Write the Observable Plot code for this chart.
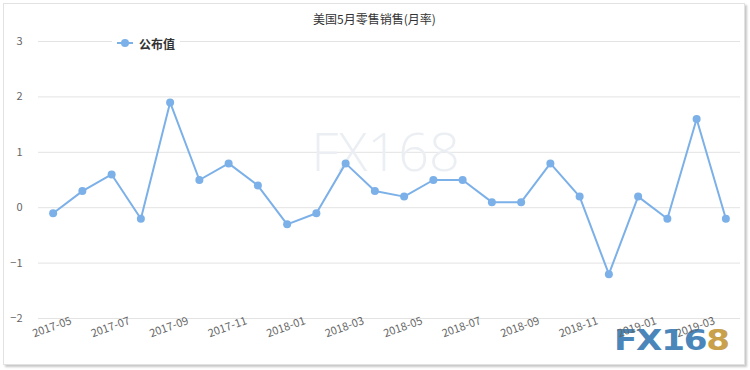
<!DOCTYPE html>
<html>
<head>
<meta charset="utf-8">
<script src="https://cdn.jsdelivr.net/npm/d3@7"></script>
<script src="https://cdn.jsdelivr.net/npm/@observablehq/plot@0.6"></script>
<style>
  html, body { margin: 0; padding: 0; background: #fff; }
  #wrap { position: relative; width: 750px; height: 370px; overflow: hidden; font-family: "Noto Sans CJK SC", "DejaVu Sans", sans-serif; }
  #frame { position: absolute; left: 3px; top: 3px; width: 740px; height: 360px; border: 1px solid #e2e2e2; box-shadow: 2px 2px 2px #c8c8c8; }
  #logo { position: absolute; left: 614px; top: 324px; font-family: "DejaVu Sans", sans-serif; font-weight: bold; font-size: 28px; transform: scaleX(1.22); transform-origin: left top; letter-spacing: -1px; }
  #logo .b { color: #4a86b9; }
  #logo .g { color: #c9a04c; }
  #chart { position: absolute; left: 0; top: 0; }
  #legend { position: absolute; left: 112px; top: 34px; background: #fff; padding: 0 5px; font-size: 12px; font-weight: bold; color: #333; display: flex; align-items: center; gap: 6px; height: 18px; }
</style>
</head>
<body>
<div id="wrap">
  <div id="frame"></div>
  <div id="logo"><span class="b">FX16</span><span class="g">8</span></div>
  <div id="chart"></div>
  <div id="legend"><svg width="16" height="10"><line x1="0" y1="5" x2="16" y2="5" stroke="#7cb0e8" stroke-width="2"/><circle cx="8" cy="5" r="4" fill="#7cb0e8"/></svg><span>公布值</span></div>
</div>
<script>
const title = "美国5月零售销售(月率)";
const months = ["2017-05","2017-06","2017-07","2017-08","2017-09","2017-10","2017-11","2017-12",
  "2018-01","2018-02","2018-03","2018-04","2018-05","2018-06","2018-07","2018-08","2018-09","2018-10","2018-11","2018-12",
  "2019-01","2019-02","2019-03","2019-04"];
const values = [-0.1, 0.3, 0.6, -0.2, 1.9, 0.5, 0.8, 0.4,
  -0.3, -0.1, 0.8, 0.3, 0.2, 0.5, 0.5, 0.1, 0.1, 0.8, 0.2, -1.2,
  0.2, -0.2, 1.6, -0.2];
const xTickLabels = ["2017-05","2017-07","2017-09","2017-11","2018-01","2018-03","2018-05","2018-07","2018-09","2018-11","2019-01","2019-03"];
const yTicks = [-2, -1, 0, 1, 2, 3];

const data = months.map((m, i) => ({month: m, value: values[i]}));
const color = "#7cb0e8";

const chart = Plot.plot({
  width: 750,
  height: 370,
  marginLeft: 38,
  marginRight: 10,
  marginTop: 41,
  marginBottom: 52,
  style: {background: "transparent", fontFamily: "'Noto Sans CJK SC', 'DejaVu Sans', sans-serif"},
  x: {type: "point", domain: months, padding: 0.5, round: false, axis: null},
  y: {domain: [-2, 3], axis: null},
  marks: [
    Plot.gridY(yTicks, {stroke: "#e3e3e3", strokeOpacity: 1}),
    Plot.text(["FX168"], {frameAnchor: "top", dx: -4, dy: 91, fontSize: 54, fontWeight: 300, fill: "#ebeff3", fontFamily: "'Open Sans', sans-serif"}),
    Plot.axisY(yTicks, {tickSize: 0, tickPadding: 16, fill: "#666", fontSize: 11, label: null, tickFormat: d => d < 0 ? "−" + Math.abs(d) : String(d)}),
    Plot.text(xTickLabels, {x: d => d, frameAnchor: "bottom", dy: 12, rotate: -20, textAnchor: "middle", fill: "#666", fontSize: 11}),
    Plot.line(data, {x: "month", y: "value", stroke: color, strokeWidth: 2}),
    Plot.dot(data, {x: "month", y: "value", r: 4, fill: color}),
    Plot.text([title], {frameAnchor: "top", dx: -15, dy: -26, fontSize: 12, fill: "#333"})
  ]
});
document.getElementById("chart").appendChild(chart);
</script>
</body>
</html>
